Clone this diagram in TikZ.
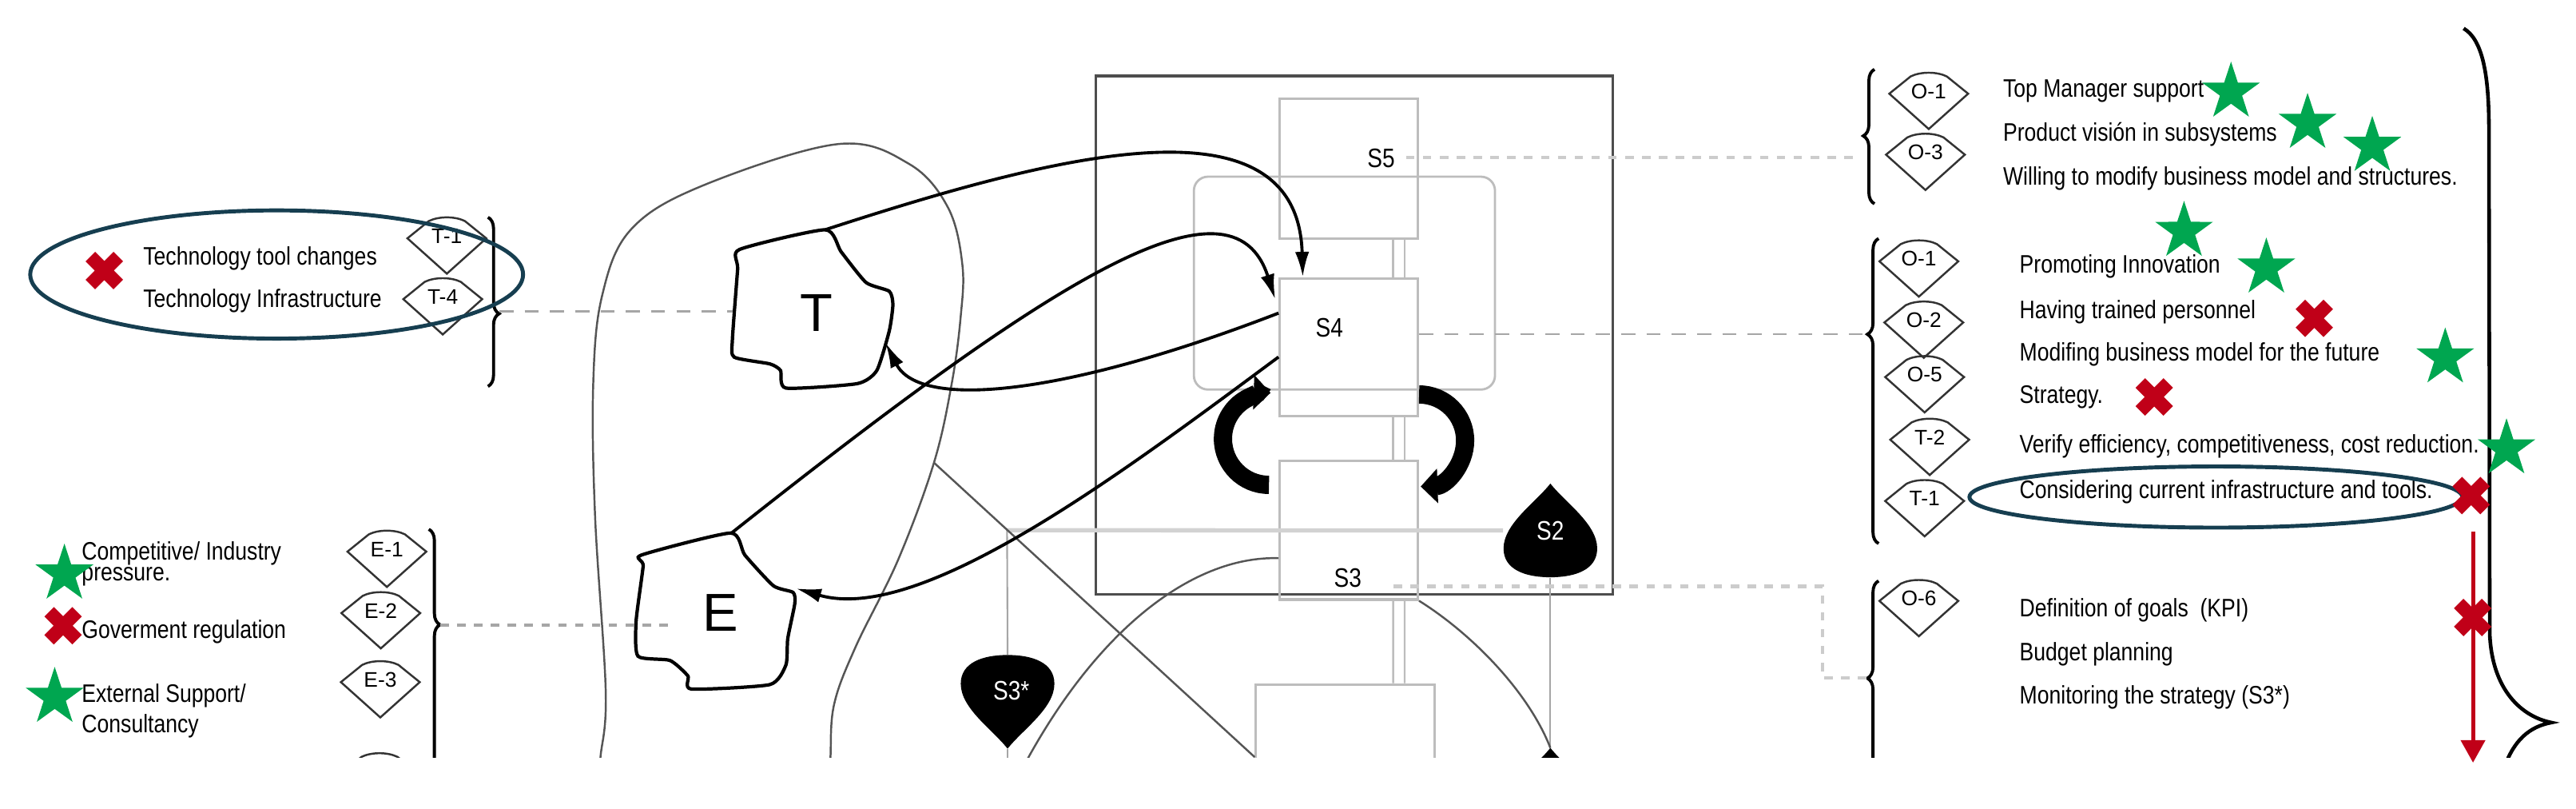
\documentclass[tikz,border=0pt]{standalone}
\usepackage{fontspec}
\setmainfont{Liberation Sans}
\newfontfamily\narrowfont[FakeStretch=0.84]{Liberation Sans}
\usetikzlibrary{arrows.meta,calc,decorations.pathreplacing}
\definecolor{ringteal}{HTML}{163E50}
\definecolor{okgreen}{HTML}{00A650}
\definecolor{badred}{HTML}{C00018}
\definecolor{framegray}{HTML}{4D4D4D}
\definecolor{boxgray}{HTML}{BDBDBD}
\definecolor{linkgray}{HTML}{555555}
\definecolor{dashgray}{HTML}{A6A6A6}
\definecolor{dotgray}{HTML}{CCCCCC}
\definecolor{chgray}{HTML}{D2D2D2}
\tikzset{
  sbox/.style={draw=boxgray,line width=0.9pt,inner sep=0pt},
  rail/.style={draw=boxgray,line width=0.7pt},
  slabel/.style={inner sep=0pt,font=\narrowfont\fontsize{9.5}{9.5}\selectfont},
  txt/.style={anchor=west,inner sep=0pt,text height=6.5pt,text depth=1.8pt,
    font=\narrowfont\fontsize{9}{9}\selectfont},
  letter/.style={inner sep=0pt,font=\fontsize{19}{19}\selectfont},
  tagline/.style={draw=black!80,line width=0.7pt},
  tagtext/.style={inner sep=0pt,font=\fontsize{7.5}{7.5}\selectfont},
  blob/.style={draw=black,line width=1.2pt,fill=white},
  link/.style={draw=black,line width=1.1pt,-{Latex[length=9pt,width=5pt]}},
  thin link/.style={draw=linkgray,line width=0.7pt},
  channel/.style={draw=gray!70,line width=0.6pt},
  cycler/.style={draw=black,line width=6.5pt,-{Triangle[length=6pt,width=12pt]}},
  curly/.style={draw=black,line width=1.1pt,decorate,
    decoration={brace,amplitude=4pt,aspect=#1}},
  ring/.style={draw=ringteal,line width=1.4pt},
  dotlink/.style={draw=dotgray,line width=1.2pt,dash pattern=on 3pt off 3pt},
  dashlink/.style={draw=dashgray,line width=0.7pt,dash pattern=on 5pt off 4pt},
  dropbox/.style={minimum width=11.7mm,minimum height=11.7mm,inner sep=0pt},
  pics/tag/.style={code={
    \draw[tagline] (-24,0) -- (-11,-10.5) .. controls (-5,-13.5) and (5,-13.5)
      .. (11,-10.5) -- (24,0) -- (0,21.5) -- cycle;
    \node[tagtext] (-lbl) at (0,-1.5) {#1};}},
  pics/goodstar/.style={code={
    \fill[okgreen] (-90:18.5) -- (-54:7.1) -- (-18:18.5) -- (18:7.1) -- (54:18.5)
      -- (90:7.1) -- (126:18.5) -- (162:7.1) -- (198:18.5) -- (234:7.1) -- cycle;}},
  pics/badcross/.style={code={
    \draw[badred,line width=4.8pt] (-8.5,-8.5) -- (8.5,8.5) (-8.5,8.5) -- (8.5,-8.5);}},
  pics/droplet/.style={code={
    \fill[black] (0,-28.5) .. controls (9,-17) and (28.5,-4) .. (28.5,11)
      .. controls (28.5,24) and (15,28.5) .. (0,28.5)
      .. controls (-15,28.5) and (-28.5,24) .. (-28.5,11)
      .. controls (-28.5,-4) and (-9,-17) .. (0,-28.5) -- cycle;}},
}
\begin{document}
\begin{tikzpicture}[x=0.2056mm,y=-0.2056mm]
\useasboundingbox (0,0) rectangle (1568,492);
\begin{scope}
  \clip (0,0) rectangle (1568,461);
  % environment outline
  \draw[thin link] plot[smooth,tension=0.6] coordinates {(364,478) (365.5,460.7)
    (368.7,420.6) (362.2,313.6) (361.1,233.4) (366.5,179.9) (383.9,139.8)
    (427.3,113.1) (509.8,87.7) (553.3,99.7) (577.1,126.4) (585.8,161.2)
    (584.7,193.3) (579.3,233.4) (568.5,281.5) (546.8,340.3) (520.7,393.8)
    (507.7,428.6) (505.5,460.7) (505,478)};
  \coordinate (env-cross) at (568.5,281.5);
  % management square and systems
  \draw[framegray,line width=1pt] (667,46.2) rectangle (981.6,361.6);
  \draw[boxgray,line width=0.8pt,rounded corners=5pt] (726.7,107.5) rectangle (910,237);
  \node[sbox,minimum width=17.27mm,minimum height=17.48mm] (s5box) at (821,102.5) {};
  \node[sbox,minimum width=17.27mm,minimum height=17.19mm] (s4box) at (821,211.2) {};
  \node[sbox,minimum width=17.27mm,minimum height=17.33mm] (s3box) at (821,322.6) {};
  \node[sbox,minimum width=22.33mm,minimum height=17.48mm] (s1box) at (818.8,458.9) {};
  \node[slabel] (s5lbl) at (840.7,96.5) {S5};
  \node[slabel] (s4lbl) at (809.2,199.4) {S4};
  \node[slabel] (s3lbl) at (820.4,351.8) {S3};
  \foreach \dx in {27,34} {
    \draw[rail] ($(s5box.south)+(\dx,0)$) -- ($(s4box.north)+(\dx,0)$);
    \draw[rail] ($(s4box.south)+(\dx,0)$) -- ($(s3box.north)+(\dx,0)$);
    \draw[rail] ($(s3box.south)+(\dx,0)$) -- ($(s1box.north)+(\dx+2.2,0)$);
  }
  % S2 and S3* channels
  \coordinate (chan) at (613,322.6);
  \coordinate (lowdrop) at (943.7,455);
  \pic at (943.7,322.7) {droplet};
  \node[dropbox,slabel,text=white] (s2) at (943.7,322.7) {S2};
  \pic[yscale=-1] at (613.3,427) {droplet};
  \node[dropbox] (s3star) at (613.3,427) {};
  \node[slabel,text=white] (s3starlbl) at (615.6,420) {S3*};
  \pic at (943.7,483.5) {droplet};
  \draw[chgray,line width=1.5pt] (chan) -- (s2.west);
  \draw[channel] (chan) -- (s3star.north);
  \draw[channel] (s3star.south) -- ++(0,20);
  \draw[channel] (s2.south) -- (lowdrop);
  \draw[thin link] (env-cross) -- ($(s1box.north west)+(0,45)$);
  \draw[thin link] ($(s3box.west)+(0,17)$) .. controls (725,338) and (665,385) .. (620,472);
  \draw[thin link] (s3box.south east) .. controls (895,385) and (930,420) .. (lowdrop);
  % T and E
  \draw[blob] plot[smooth cycle,tension=0.35] coordinates {(450.1,151.8) (502.2,139.8)
    (512,153.2) (527.2,171.9) (541.3,177.2) (543.5,185.3) (541.3,201.3) (533.7,225.4)
    (521.8,233.4) (478.4,236.1) (475.1,225.4) (468.6,221.4) (446.9,217.3)
    (445.8,206.7) (449,163.9)};
  \draw[blob] plot[smooth cycle,tension=0.35] coordinates {(390.4,337.7) (444.7,324.3)
    (453.4,337.7) (470.8,356.4) (482.7,360.4) (483.8,367.1) (479.5,388.5)
    (478.4,404.5) (468.6,416.5) (420.8,419.2) (418.7,411.2) (407.8,401.8)
    (388.3,399.2) (387.2,377.8) (391.5,344.3)};
  \node[letter] (tnode) at (496.8,190.6) {T};
  \node[letter] (enode) at (438.4,372.7) {E};
  \coordinate (t-ne) at (502.2,139.8);
  \coordinate (t-in) at (539,208.5);
  \coordinate (t-w) at (445.8,189.5);
  \coordinate (e-ne) at (445,324.5);
  \coordinate (e-in) at (484.5,358);
  \coordinate (e-w) at (410,380.2);
  \draw[link] (t-ne) .. controls (640,95) and (790,55) .. ($(s4box.north)+(-28,0)$);
  \draw[link] (e-ne) .. controls (640,170) and (750,100) .. ($(s4box.west)+(-2,-29)$);
  \draw[link] ($(s4box.west)+(0,-20.7)$) .. controls (650,240) and (560,250) .. (t-in);
  \draw[link] ($(s4box.west)+(0,6)$) .. controls (680,290) and (560,380) .. (e-in);
  % S3 - S4 homeostat
  \draw[cycler] (772.4,295) arc[start angle=90,end angle=272,radius=28];
  \draw[cycler] (863.8,240) arc[start angle=270,end angle=448,radius=28];
  % brackets
  \coordinate (b0tip) at (304,189.5);
  \coordinate (b4tip) at (268,380.2);
  \coordinate (b1tip) at (1134.5,82.7);
  \coordinate (b1end) at (1129,95.7);
  \coordinate (b2tip) at (1136.5,203.4);
  \coordinate (b3tip) at (1136.5,412.6);
  \coordinate (s5tap) at (855.9,95.7);
  \coordinate (s3tap) at (848.3,356.7);
  \draw[curly=0.57] (297,132.2) -- (297,235.1);
  \draw[curly=0.33] (261,322) -- (261,498);
  \draw[curly=0.505] (1141,124) -- (1141,42.2);
  \draw[curly=0.686] (1143.5,330.7) -- (1143.5,145.1);
  \draw[curly=0.532] (1143.5,480) -- (1143.5,353.4);
  \draw[black,line width=1.3pt] (1499.6,17.3) .. controls (1511,24) and (1515,45) .. (1515,78)
    -- (1515.5,386) .. controls (1517,420) and (1535,436) .. (1553,439.6)
    .. controls (1540,442) and (1530,450) .. (1524,468);
  \draw[dashlink] (b0tip) -- (t-w);
  \draw[dotlink,draw=dashgray] (b4tip) -- (e-w);
  \draw[dotlink] (s5tap) -- (b1end);
  \draw[dashlink] (s4box.east |- b2tip) -- (b2tip);
  \draw[dotlink] (s3tap) -| ($(b3tip)+(-27,0)$) -- (b3tip);
  % tags
  \pic (tagT1) at (272,145) {tag=T-1};
  \pic (tagT4) at (269.5,182) {tag=T-4};
  \pic (tagE1) at (235.5,335.6) {tag=E-1};
  \pic (tagE2) at (231.8,373) {tag=E-2};
  \pic (tagE3) at (231.5,415) {tag=E-3};
  \pic (tagE4) at (231,471) {tag=};
  \pic (tagO1a) at (1174,57) {tag=O-1};
  \pic (tagO3) at (1172,94.1) {tag=O-3};
  \pic (tagO1b) at (1168,159) {tag=O-1};
  \pic (tagO2) at (1171,196.2) {tag=O-2};
  \pic (tagO5) at (1171.5,229.4) {tag=O-5};
  \pic (tagT2) at (1174.6,267.5) {tag=T-2};
  \pic (tagT1b) at (1171.5,304.8) {tag=T-1};
  \pic (tagO6) at (1168,365.6) {tag=O-6};
\end{scope}
% factor texts
\node[txt] (techtool) at (86.9,157.3) {Technology tool changes};
\node[txt] (techinfra) at (86.9,183.2) {Technology Infrastructure};
\node[txt] (compet) at (49.5,336.5) {Competitive/ Industry};
\node[txt,text height=4.7pt] (pressure) at (49.5,350.8) {pressure.};
\node[txt] (govreg) at (49.5,384.3) {Goverment regulation};
\node[txt] (extsup) at (49.5,423.2) {External Support/};
\node[txt] (consult) at (49.5,441.8) {Consultancy};
\node[txt] (topman) at (1219,55.1) {Top Manager support};
\node[txt] (prodvis) at (1219,81.9) {Product visión in subsystems};
\node[txt] (willing) at (1219,108.6) {Willing to modify business model and structures.};
\node[txt] (promo) at (1229,162.1) {Promoting Innovation};
\node[txt] (trained) at (1229,189.7) {Having trained personnel};
\node[txt] (modif) at (1229,215.6) {Modifing business model for the future};
\node[txt] (strat) at (1229,241.5) {Strategy.};
\node[txt] (verify) at (1229,271.5) {Verify efficiency, competitiveness, cost reduction.};
\node[txt] (consid) at (1229,299.1) {Considering current infrastructure and tools.};
\node[txt] (goals) at (1229,371.3) {Definition of goals\ \ (KPI)};
\node[txt] (budget) at (1229,398) {Budget planning};
\node[txt] (monit) at (1229,424) {Monitoring the strategy (S3*)};
% highlights
\draw[ring] (168.4,167) ellipse [x radius=150,y radius=39];
\draw[ring] (1348.8,302.4) ellipse [x radius=150,y radius=18.6];
\pic at (39.2,349.2) {goodstar};
\pic at (33.3,424.2) {goodstar};
\pic at (1358,56) {goodstar};
\pic at (1404.6,75) {goodstar};
\pic at (1444,89) {goodstar};
\pic at (1329.4,140.7) {goodstar};
\pic at (1379.5,163) {goodstar};
\pic at (1488.4,217.7) {goodstar};
\pic at (1525.7,273) {goodstar};
\pic at (63.5,164.6) {badcross};
\pic at (38.4,380.7) {badcross};
\pic at (1408.7,193.7) {badcross};
\pic at (1311.3,241.5) {badcross};
\pic at (1504.2,301.5) {badcross};
\pic at (1505.1,375.7) {badcross};
\coordinate (redtop) at (1505.3,323.4);
\coordinate (redend) at (1505.3,464);
\draw[badred,line width=1.4pt,-{Triangle[length=8pt,width=8.5pt]}] (redtop) -- (redend);
\end{tikzpicture}
\end{document}
